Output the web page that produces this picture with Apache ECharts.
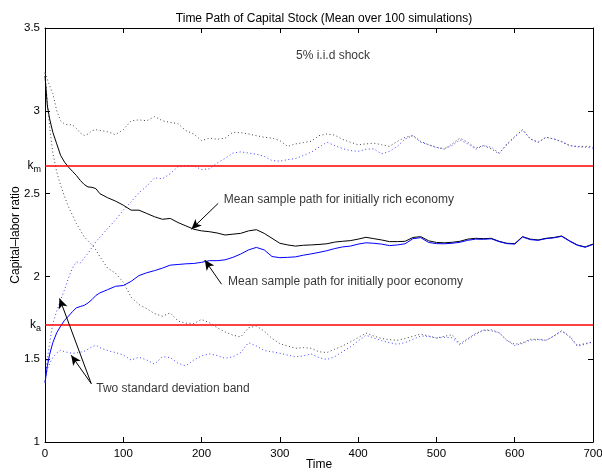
<!DOCTYPE html>
<html>
<head>
<meta charset="utf-8">
<script src="https://cdn.jsdelivr.net/npm/echarts@6/dist/echarts.min.js"></script>
<style>html,body{margin:0;padding:0;background:#fff}#c{width:602px;height:473px}</style>
</head>
<body>
<div id="c"></div>
<script>
// ---- data ----
const times = [0,3,6,10,15,20,25,30,35,40,45,50,55,60,65,70,
  80,90,100,110,120,130,140,150,160,170,
  180,190,200,210,220,230,240,250,260,270,
  280,290,300,310,320,330,340,350,360,370,
  380,390,400,410,420,430,440,450,460,470,
  480,490,500,510,520,530,540,550,560,570,
  580,590,600,610,620,630,640,650,660,670,
  680,690,700];

const richMean = [3.21,3.03,2.95,2.87,2.80,2.73,2.69,2.66,2.635,2.61,2.58,2.555,2.54,2.538,2.53,2.50,
  2.475,2.455,2.43,2.40,2.40,2.38,2.36,2.345,2.35,2.325,
  2.305,2.285,2.275,2.27,2.262,2.25,2.255,2.26,2.275,2.282,
  2.26,2.23,2.20,2.19,2.183,2.188,2.19,2.193,2.197,2.207,
  2.212,2.216,2.225,2.236,2.228,2.22,2.21,2.21,2.212,2.235,
  2.24,2.215,2.205,2.203,2.206,2.212,2.225,2.23,2.228,2.23,
  2.212,2.2,2.198,2.24,2.225,2.22,2.23,2.235,2.244,2.215,
  2.19,2.178,2.195];

const poorMean = [1.36,1.46,1.53,1.60,1.66,1.70,1.735,1.76,1.787,1.81,1.818,1.825,1.84,1.86,1.885,1.90,
  1.92,1.94,1.945,1.97,2.005,2.022,2.035,2.05,2.068,2.072,
  2.076,2.078,2.085,2.095,2.095,2.10,2.115,2.135,2.16,2.175,
  2.16,2.12,2.113,2.115,2.118,2.128,2.136,2.145,2.155,2.168,
  2.178,2.183,2.195,2.203,2.20,2.195,2.186,2.19,2.197,2.228,
  2.234,2.205,2.198,2.197,2.2,2.206,2.218,2.225,2.224,2.227,
  2.21,2.198,2.195,2.238,2.222,2.218,2.228,2.233,2.242,2.213,
  2.188,2.176,2.193];

const richUpper = [3.23,3.19,3.15,3.105,3.00,2.94,2.92,2.915,2.916,2.895,2.866,2.85,2.86,2.88,2.886,2.882,
  2.873,2.856,2.886,2.94,2.945,2.94,2.965,2.94,2.93,2.922,
  2.88,2.86,2.82,2.835,2.828,2.835,2.87,2.868,2.86,2.85,
  2.84,2.835,2.82,2.785,2.80,2.808,2.816,2.85,2.86,2.853,
  2.828,2.81,2.795,2.80,2.805,2.795,2.785,2.815,2.84,2.85,
  2.815,2.795,2.78,2.768,2.80,2.835,2.81,2.775,2.79,2.77,
  2.74,2.8,2.845,2.885,2.83,2.81,2.84,2.83,2.815,2.79,
  2.785,2.785,2.785];

const richLower = [3.23,3.05,2.90,2.745,2.63,2.55,2.482,2.42,2.37,2.32,2.28,2.24,2.215,2.19,2.16,2.12,
  2.05,2.02,1.965,1.875,1.83,1.805,1.775,1.76,1.78,1.73,
  1.718,1.715,1.74,1.72,1.69,1.665,1.645,1.635,1.69,1.70,
  1.67,1.625,1.594,1.58,1.566,1.57,1.566,1.545,1.54,1.56,
  1.58,1.604,1.63,1.658,1.64,1.625,1.618,1.614,1.625,1.638,
  1.652,1.64,1.628,1.638,1.648,1.592,1.625,1.655,1.675,1.672,
  1.66,1.614,1.59,1.60,1.62,1.62,1.614,1.64,1.67,1.64,
  1.584,1.595,1.604];

const poorUpper = [1.36,1.50,1.60,1.716,1.79,1.86,1.92,1.99,2.05,2.088,2.08,2.11,2.14,2.175,2.21,2.235,
  2.29,2.34,2.40,2.45,2.505,2.545,2.595,2.59,2.62,2.664,
  2.668,2.668,2.645,2.65,2.685,2.712,2.745,2.752,2.745,2.738,
  2.725,2.70,2.696,2.705,2.712,2.73,2.75,2.78,2.81,2.79,
  2.772,2.76,2.755,2.768,2.77,2.74,2.755,2.785,2.83,2.85,
  2.81,2.795,2.778,2.772,2.79,2.825,2.80,2.768,2.79,2.78,
  2.745,2.795,2.84,2.885,2.83,2.81,2.84,2.83,2.812,2.79,
  2.782,2.78,2.775];

const poorLower = [1.36,1.44,1.475,1.51,1.538,1.554,1.546,1.54,1.535,1.538,1.542,1.548,1.56,1.575,1.584,1.57,
  1.552,1.54,1.525,1.495,1.512,1.495,1.47,1.515,1.51,1.475,
  1.46,1.495,1.52,1.532,1.522,1.505,1.515,1.54,1.60,1.58,
  1.552,1.545,1.536,1.525,1.514,1.52,1.532,1.51,1.498,1.515,
  1.545,1.574,1.61,1.645,1.628,1.612,1.60,1.59,1.60,1.62,
  1.64,1.638,1.628,1.632,1.63,1.586,1.62,1.65,1.675,1.678,
  1.66,1.614,1.582,1.595,1.615,1.618,1.614,1.64,1.672,1.635,
  1.578,1.59,1.604];

const kLevels = [{name:'m', value:2.667},{name:'a', value:1.71}];

const xTicks = {min:0, max:700, step:100};
const yTicks = {min:1, max:3.5, step:0.5};

const notes = [
  {text:'5% i.i.d shock', at:[320.6, 3.333]},
  {text:'Mean sample path for initially rich economy', at:[228.4, 2.462]},
  {text:'Mean sample path for initially poor economy', at:[233.9, 1.967]},
  {text:'Two standard deviation band', at:[65.5, 1.322]}
];
const arrows = [
  {from:[221.2, 2.441], to:[187.1, 2.285]},
  {from:[225.5, 1.953], to:[204.1, 2.099]},
  {from:[59.1, 1.352], to:[18.6, 1.867]},
  {from:[59.1, 1.352], to:[33.5, 1.524]}
];

// ---- chart ----
const FONT = 'Liberation Sans, Arial, Helvetica, sans-serif';
const pairs = arr => times.map((t, i) => [t, arr[i]]);

function lineSeries(name, arr, color, dotted) {
  return {
    name, type:'line', data: pairs(arr), showSymbol:false, symbol:'none',
    xAxisIndex:0, yAxisIndex:0, silent:true, z: dotted ? 2 : 3,
    lineStyle:{color, width:1, type: dotted ? [1,2.6] : 'solid'}
  };
}

const axisCommon = {
  axisLine:{show:true, onZero:false, lineStyle:{color:'#000', width:1}},
  axisTick:{show:true, inside:true, length:5, lineStyle:{color:'#000', width:1}},
  splitLine:{show:false}
};

const chart = echarts.init(document.getElementById('c'), null, {renderer:'canvas'});
chart.setOption({
  animation:false,
  backgroundColor:'#fff',
  textStyle:{fontFamily:FONT},
  title:{
    text:'Time Path of Capital Stock (Mean over 100 simulations)',
    left:319, top:8, textAlign:'center',
    textStyle:{fontFamily:FONT, fontSize:12, fontWeight:'normal', color:'#000'}
  },
  grid:{left:45, right:9, top:28, bottom:31, containLabel:false, outerBoundsMode:'none'},
  xAxis:[
    Object.assign({type:'value', position:'bottom', min:xTicks.min, max:xTicks.max, interval:xTicks.step,
      axisLabel:{color:'#000', fontSize:11.5, margin:6, fontFamily:FONT},
      name:'Time', nameLocation:'middle', nameGap:17, nameMoveOverlap:false,
      nameTextStyle:{color:'#000', fontSize:12, fontFamily:FONT}}, axisCommon),
    Object.assign({type:'value', position:'top', min:xTicks.min, max:xTicks.max, interval:xTicks.step,
      axisLabel:{show:false}}, axisCommon)
  ],
  yAxis:[
    Object.assign({type:'value', position:'left', min:yTicks.min, max:yTicks.max, interval:yTicks.step,
      axisLabel:{color:'#000', fontSize:11.5, margin:5, fontFamily:FONT},
      name:'Capital\u2013labor ratio', nameLocation:'middle', nameGap:23, nameRotate:90, nameMoveOverlap:false,
      nameTextStyle:{color:'#000', fontSize:12, fontFamily:FONT}}, axisCommon),
    Object.assign({type:'value', position:'right', min:yTicks.min, max:yTicks.max, interval:yTicks.step,
      axisLabel:{show:false}}, axisCommon)
  ],
  series:[
    lineSeries('richUpper', richUpper, '#444', true),
    lineSeries('richLower', richLower, '#444', true),
    lineSeries('poorUpper', poorUpper, '#4040ff', true),
    lineSeries('poorLower', poorLower, '#4040ff', true),
    Object.assign(lineSeries('richMean', richMean, '#000', false), {
      markLine:{
        silent:true, symbol:'none', animation:false,
        lineStyle:{color:'#ff0000', width:1.5, type:'solid'},
        label:{
          show:true, position:'start', distance:4,
          formatter: p => '{k|k}{s|' + p.name + '}',
          rich:{
            k:{fontSize:12, color:'#000', fontFamily:FONT},
            s:{fontSize:9, color:'#000', fontFamily:FONT, padding:[9,0,0,0]}
          }
        },
        emphasis:{disabled:true},
        data: kLevels.map(k => ({name:k.name, yAxis:k.value}))
      }
    }),
    lineSeries('poorMean', poorMean, '#0000ff', false),
    {
      name:'notes', type:'scatter', xAxisIndex:0, yAxisIndex:0, silent:true, z:5,
      symbolSize:0,
      data: notes.map(n => ({name:n.text, value:n.at})),
      label:{show:true, position:'right', distance:0, formatter: p => p.name,
        color:'#000', fontSize:12, fontFamily:FONT},
      markLine:{
        silent:true, animation:false, symbol:['none','arrow'], symbolSize:[7,10],
        lineStyle:{color:'#000', width:1, type:'solid'},
        label:{show:false}, emphasis:{disabled:true},
        data: arrows.map(a => [{coord:a.from}, {coord:a.to}])
      }
    }
  ]
});
</script>
</body>
</html>
